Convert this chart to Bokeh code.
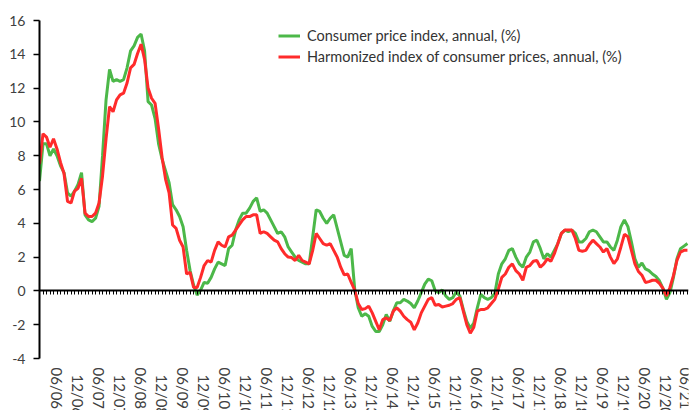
import math
from bokeh.plotting import figure
from bokeh.models import LinearAxis, FixedTicker, Range1d, Legend, LegendItem, ColumnDataSource
from bokeh.embed import file_html
from bokeh.resources import INLINE

start_year = 2006

# Consumer price index, annual (%), monthly from 01/2006 to 06/2021
cpi = [
    6.5, 8.7, 8.7, 8.0, 8.4, 8.0, 7.4, 7.0, 5.8, 5.6, 5.9, 6.3,
    7.0, 4.5, 4.2, 4.1, 4.3, 5.0, 8.0, 11.3, 13.1, 12.4, 12.5, 12.4,
    12.5, 13.2, 14.2, 14.5, 15.0, 15.2, 14.2, 11.2, 11.0, 10.2, 8.7, 7.8,
    7.1, 6.4, 5.1, 4.8, 4.4, 3.8, 2.4, 1.2, 0.35, -0.25, 0.05, 0.5,
    0.45, 0.8, 1.3, 1.7, 1.6, 1.5, 2.5, 2.7, 3.6, 4.2, 4.6, 4.6,
    4.9, 5.3, 5.5, 4.7, 4.8, 4.6, 4.2, 3.8, 3.4, 3.5, 3.2, 2.6,
    2.3, 2.0, 1.8, 1.7, 1.6, 1.6, 3.2, 4.8, 4.7, 4.3, 4.0, 4.3,
    4.5, 3.7, 2.9, 2.1, 2.0, 2.5, 0.1, -1.0, -1.5, -1.35, -1.5, -2.1,
    -2.4, -2.4, -2.0, -1.4, -1.8, -1.2, -0.7, -0.7, -0.5, -0.6, -0.75, -1.0,
    -0.6, -0.1, 0.4, 0.7, 0.6, 0.0, -0.1, 0.05, -0.3, -0.5, -0.4, -0.05,
    -0.3, -1.1, -1.8, -2.2, -1.9, -1.0, -0.2, -0.4, -0.5, -0.4, -0.15, 1.0,
    1.6, 1.9, 2.4, 2.5, 2.0, 1.6, 1.4, 2.0, 2.3, 2.9, 3.0, 2.5,
    1.9, 2.2, 2.0, 2.4, 2.8, 3.4, 3.6, 3.5, 3.6, 3.4, 2.9, 2.9,
    3.1, 3.5, 3.6, 3.5, 3.2, 2.9, 2.9, 2.6, 2.4, 3.0, 3.8, 4.2,
    3.8, 2.9, 1.9, 1.4, 1.65, 1.3, 1.2, 1.0, 0.85, 0.6, 0.15, -0.5,
    -0.1, 0.8, 1.9, 2.5, 2.65, 2.8,
]

# Harmonized index of consumer prices, annual (%)
hicp = [
    7.5, 9.3, 9.1, 8.5, 9.0, 8.4, 7.6, 6.95, 5.3, 5.2, 5.9, 6.07,
    6.66, 4.6, 4.4, 4.4, 4.6, 5.2, 6.8, 9.0, 10.9, 10.6, 11.3, 11.6,
    11.7, 12.3, 13.2, 13.4, 14.05, 14.6, 13.7, 12.0, 11.4, 11.1, 9.6, 7.9,
    6.6, 5.8, 3.9, 3.7, 3.0, 2.6, 1.0, 1.1, 0.2, 0.2, 0.8, 1.5,
    1.8, 1.7, 2.4, 2.9, 2.7, 2.6, 3.2, 3.3, 3.6, 3.9, 4.2, 4.4,
    4.4, 4.5, 4.5, 3.4, 3.5, 3.4, 3.2, 3.0, 2.9, 2.5, 2.2, 2.0,
    1.97, 1.8, 2.1, 1.8, 1.7, 1.6, 2.4, 3.4, 3.1, 2.8, 2.7, 2.8,
    2.4, 2.0, 1.4, 0.95, 1.0, 0.5, 0.04, -0.75, -1.1, -1.05, -0.9, -1.3,
    -1.8, -2.3, -1.7, -1.6, -1.75, -1.2, -1.0, -1.2, -1.5, -1.7, -1.85, -2.3,
    -1.9, -1.3, -0.9, -0.5, -0.4, -0.85, -0.8, -0.95, -0.9, -0.85, -0.75, -0.5,
    -0.4, -1.2, -2.0, -2.5, -2.15, -1.2, -1.1, -1.1, -1.0, -0.75, -0.5, 0.1,
    0.8, 1.0, 1.4, 1.6, 1.2, 1.0, 0.63, 1.4, 1.5, 1.75, 1.8, 1.4,
    1.6, 1.9, 1.75, 2.2, 2.8, 3.4, 3.6, 3.6, 3.6, 3.1, 2.4, 2.35,
    2.4, 2.75, 3.0, 2.8, 2.6, 2.3, 2.5, 2.0, 1.62, 1.9, 2.6, 3.35,
    3.2, 2.4, 1.6, 1.15, 0.93, 0.5, 0.55, 0.63, 0.63, 0.45, 0.15, -0.3,
    0.2, 0.9, 1.8, 2.3, 2.4, 2.4,
]

x_tick_labels = [
    "06/06", "12/06", "06/07", "12/07", "06/08", "12/08", "06/09", "12/09",
    "06/10", "12/10", "06/11", "12/11", "06/12", "12/12", "06/13", "12/13",
    "06/14", "12/14", "06/15", "12/15", "06/16", "12/16", "06/17", "12/17",
    "06/18", "12/18", "06/19", "12/19", "06/20", "12/20", "06/21",
]
y_ticks = [-4, -2, 0, 2, 4, 6, 8, 10, 12, 14, 16]
y_tick_labels = ["-4", "-2", "0", "2", "4", "6", "8", "10", "12", "14", "16"]
series_labels = [
    "Consumer price index, annual, (%)",
    "Harmonized index of consumer prices, annual, (%)",
]

FONT = "Lato"
TXT = "#404040"
W, H = 694, 410
TOP, LEFT, RIGHT = 20, 39, 6
AXIS_PX = 338  # pixel height of the -4..16 axis

months = list(range(len(cpi)))


def label_pos(lbl):
    mm, yy = lbl.split("/")
    return (2000 + int(yy) - start_year) * 12 + int(mm) - 1


# the frame reaches the bottom of the canvas so the rotated labels below -4 are drawn
frame_h = H - TOP
y_lo, y_hi = y_ticks[0], y_ticks[-1]
y_start = y_hi - (y_hi - y_lo) * frame_h / AXIS_PX

src = ColumnDataSource(dict(m=months, cpi=cpi, hicp=hicp))

p = figure(width=W, height=H, output_backend="svg", toolbar_location=None,
           x_range=Range1d(0, months[-1] + 0.3),
           y_range=Range1d(y_start, y_hi),
           x_axis_location=None,
           min_border_left=LEFT, min_border_right=RIGHT,
           min_border_top=TOP, min_border_bottom=0)
p.outline_line_color = None
p.background_fill_color = "white"
p.border_fill_color = "white"
p.xgrid.visible = False
p.ygrid.visible = False

# y axis
yax = p.yaxis[0]
yax.ticker = FixedTicker(ticks=y_ticks)
yax.bounds = (y_lo, y_hi)
yax.major_label_overrides = {t: l for t, l in zip(y_ticks, y_tick_labels)}
yax.axis_line_color = "black"
yax.axis_line_width = 2
yax.major_tick_line_color = "black"
yax.major_tick_line_width = 1.5
yax.major_tick_out = 6
yax.major_tick_in = 0
yax.minor_tick_line_color = None
yax.major_label_standoff = 8
yax.major_label_text_font = FONT
yax.major_label_text_font_size = "14px"
yax.major_label_text_color = TXT

# zero line with monthly ticks
zero_axis = LinearAxis(fixed_location=0, ticker=FixedTicker(ticks=months),
                       major_label_overrides={m: "" for m in months},
                       major_label_text_font_size="0px",
                       axis_line_color="black", axis_line_width=2,
                       major_tick_line_color="black", major_tick_line_width=1,
                       major_tick_out=4, major_tick_in=0,
                       minor_tick_line_color=None)
p.add_layout(zero_axis, "below")


def label_axis(labels, standoff):
    ticks = [label_pos(l) for l in labels]
    return LinearAxis(fixed_location=y_lo, ticker=FixedTicker(ticks=ticks),
                      major_label_overrides={t: l for t, l in zip(ticks, labels)},
                      axis_line_color=None, major_tick_line_color=None,
                      major_tick_out=0, major_tick_in=0,
                      minor_tick_line_color=None,
                      major_label_orientation=-math.pi / 2,
                      major_label_standoff=standoff,
                      major_label_text_font=FONT,
                      major_label_text_font_size="15px",
                      major_label_text_color=TXT)


p.add_layout(label_axis([l for l in x_tick_labels if l.startswith("06")], 9), "below")
p.add_layout(label_axis([l for l in x_tick_labels if l.startswith("12")], 16), "below")

r_cpi = p.line("m", "cpi", source=src, line_color="#4CB849", line_width=3)
r_hicp = p.line("m", "hicp", source=src, line_color="#FF2B2B", line_width=3)

legend = Legend(items=[LegendItem(label=series_labels[0], renderers=[r_cpi]),
                       LegendItem(label=series_labels[1], renderers=[r_hicp])],
                location=(239, 343),
                border_line_color=None, background_fill_alpha=0,
                padding=0, margin=0, spacing=0,
                glyph_width=22, glyph_height=21, label_height=21,
                label_standoff=7,
                label_text_font=FONT, label_text_font_size="14.5px",
                label_text_color="#333333")
p.add_layout(legend)

open("out.html", "w").write(file_html(p, INLINE))
